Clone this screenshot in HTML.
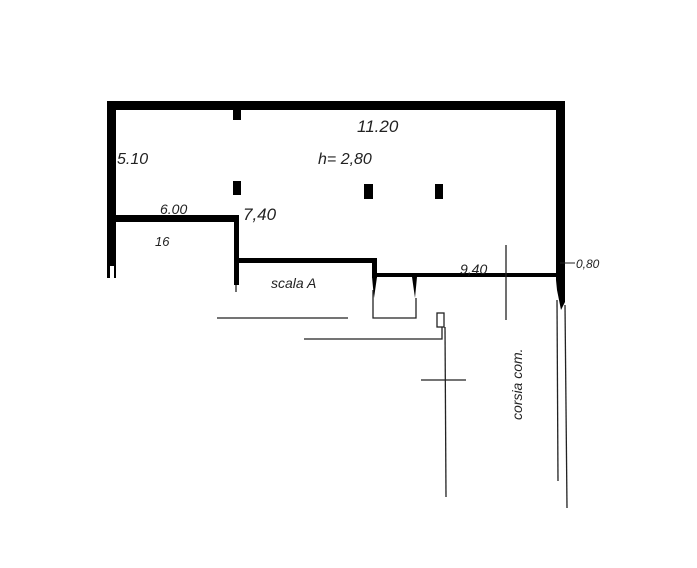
<!DOCTYPE html>
<html><head><style>
html,body{margin:0;padding:0;background:#fff;}
svg{display:block;}
text{font-family:"Liberation Sans",sans-serif;font-style:italic;fill:#222;}
</style></head><body>
<svg width="697" height="568" viewBox="0 0 697 568" xmlns="http://www.w3.org/2000/svg">
<rect width="697" height="568" fill="#fff"/>
<rect x="107" y="101" width="458" height="9" fill="#000"/>
<rect x="107" y="101" width="9" height="165" fill="#000"/>
<rect x="107" y="266" width="3" height="12" fill="#000"/>
<rect x="114" y="266" width="2" height="12" fill="#000"/>
<polygon points="556,101 565,101 565,302 561,310 557,290 556,280" fill="#000"/>
<rect x="107" y="215" width="132" height="7" fill="#000"/>
<rect x="234" y="215" width="5" height="70" fill="#000"/>
<rect x="234" y="258" width="142" height="5" fill="#000"/>
<rect x="372" y="258" width="5" height="20" fill="#000"/>
<polygon points="372,277 377,277 374,298" fill="#000"/>
<rect x="372" y="273" width="185" height="4" fill="#000"/>
<polygon points="412,277 417,277 415,298" fill="#000"/>
<rect x="233" y="110" width="8" height="10" fill="#000"/>
<rect x="233" y="181" width="8" height="14" fill="#000"/>
<rect x="364" y="184" width="9" height="15" fill="#000"/>
<rect x="435" y="184" width="8" height="15" fill="#000"/>
<g stroke="#222" stroke-width="1.3" fill="none">
<line x1="236" y1="285" x2="236" y2="292"/>
<polyline points="373,290 373,318 416,318 416,298"/>
<line x1="217" y1="318" x2="348" y2="318"/>
<rect x="437" y="313" width="7" height="14"/>
<polyline points="304,339 442,339 442,327"/>
<line x1="445" y1="327" x2="446" y2="497"/>
<line x1="421" y1="380" x2="466" y2="380"/>
<line x1="506" y1="245" x2="506" y2="320"/>
<line x1="557" y1="300" x2="558" y2="481"/>
<line x1="565" y1="305" x2="567" y2="508"/>
<line x1="560" y1="263" x2="575" y2="263" stroke-width="1"/>
</g>
<text x="117" y="164" font-size="16">5.10</text>
<text x="357" y="132" font-size="17" fill="#555">11.20</text>
<text x="318" y="164" font-size="16">h= 2,80</text>
<text x="160" y="214" font-size="14" fill="#555">6.00</text>
<text x="243" y="220" font-size="17" fill="#444">7,40</text>
<text x="155" y="246" font-size="13">16</text>
<text x="271" y="288" font-size="14">scala A</text>
<text x="460" y="274" font-size="14">9,40</text>
<text x="576" y="268" font-size="12" fill="#444">0,80</text>
<text x="0" y="0" font-size="14" transform="translate(522,420) rotate(-90)">corsia com.</text>
</svg>
</body></html>
